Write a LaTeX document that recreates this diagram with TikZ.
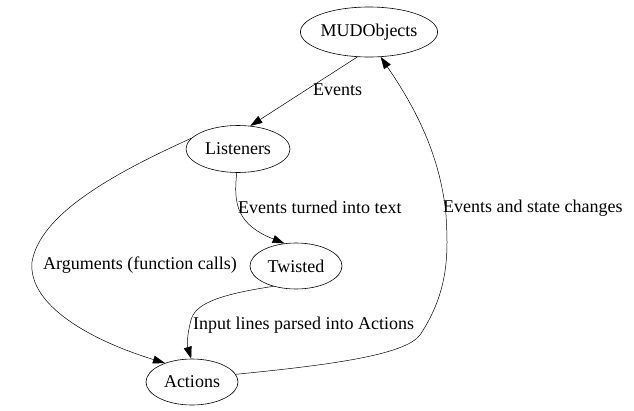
\documentclass[tikz,border=0pt]{standalone}
\usepackage{fontspec}
\setmainfont{Liberation Serif}
\usetikzlibrary{shapes.geometric,arrows.meta}
\begin{document}
\begin{tikzpicture}[x=1pt,y=-1pt,
  every node/.style={font=\fontsize{18}{20}\selectfont},
  ell/.style={draw,ellipse,inner sep=0pt,line width=0.6pt},
  edge/.style={draw,line width=0.5pt,-{Triangle[length=12pt,width=8pt]}},
  lab/.style={inner sep=0pt,anchor=west}]
\useasboundingbox (0,0) rectangle (634,410);
\node[ell,minimum width=136,minimum height=50] (mud) at (369,32) {MUDObjects};
\node[ell,minimum width=104,minimum height=47] (lis) at (238,149) {Listeners};
\node[ell,minimum width=92,minimum height=46] (tw) at (296,266) {Twisted};
\node[ell,minimum width=92,minimum height=46] (act) at (192,382) {Actions};
\draw[edge] (mud.-115) -- (lis.62);
\node[lab] (l1) at (313,90) {Events};
\draw[edge] (lis.-93) .. controls (233,205) and (238,225) .. (tw.117);
\node[lab] (l2) at (238,207) {Events turned into text};
\draw[edge] (lis.167) .. controls (110,175) and (40,215) .. (32,262) .. controls (28,305) and (90,340) .. (act.145);
\node[lab] (l3) at (43,265) {Arguments (function calls)};
\draw[edge] (tw.-138) .. controls (215,295) and (195,305) .. (191,320) .. controls (187,335) and (187,345) .. (act.92);
\node[lab] (l4) at (193,325) {Input lines parsed into Actions};
\draw[edge] (act.10) .. controls (330,365) and (405,355) .. (420,335) .. controls (450,290) and (448,250) .. (446,215) .. controls (440,150) and (410,100) .. (mud.-65);
\node[lab] (l5) at (443,208) {Events and state changes};
\end{tikzpicture}
\end{document}
